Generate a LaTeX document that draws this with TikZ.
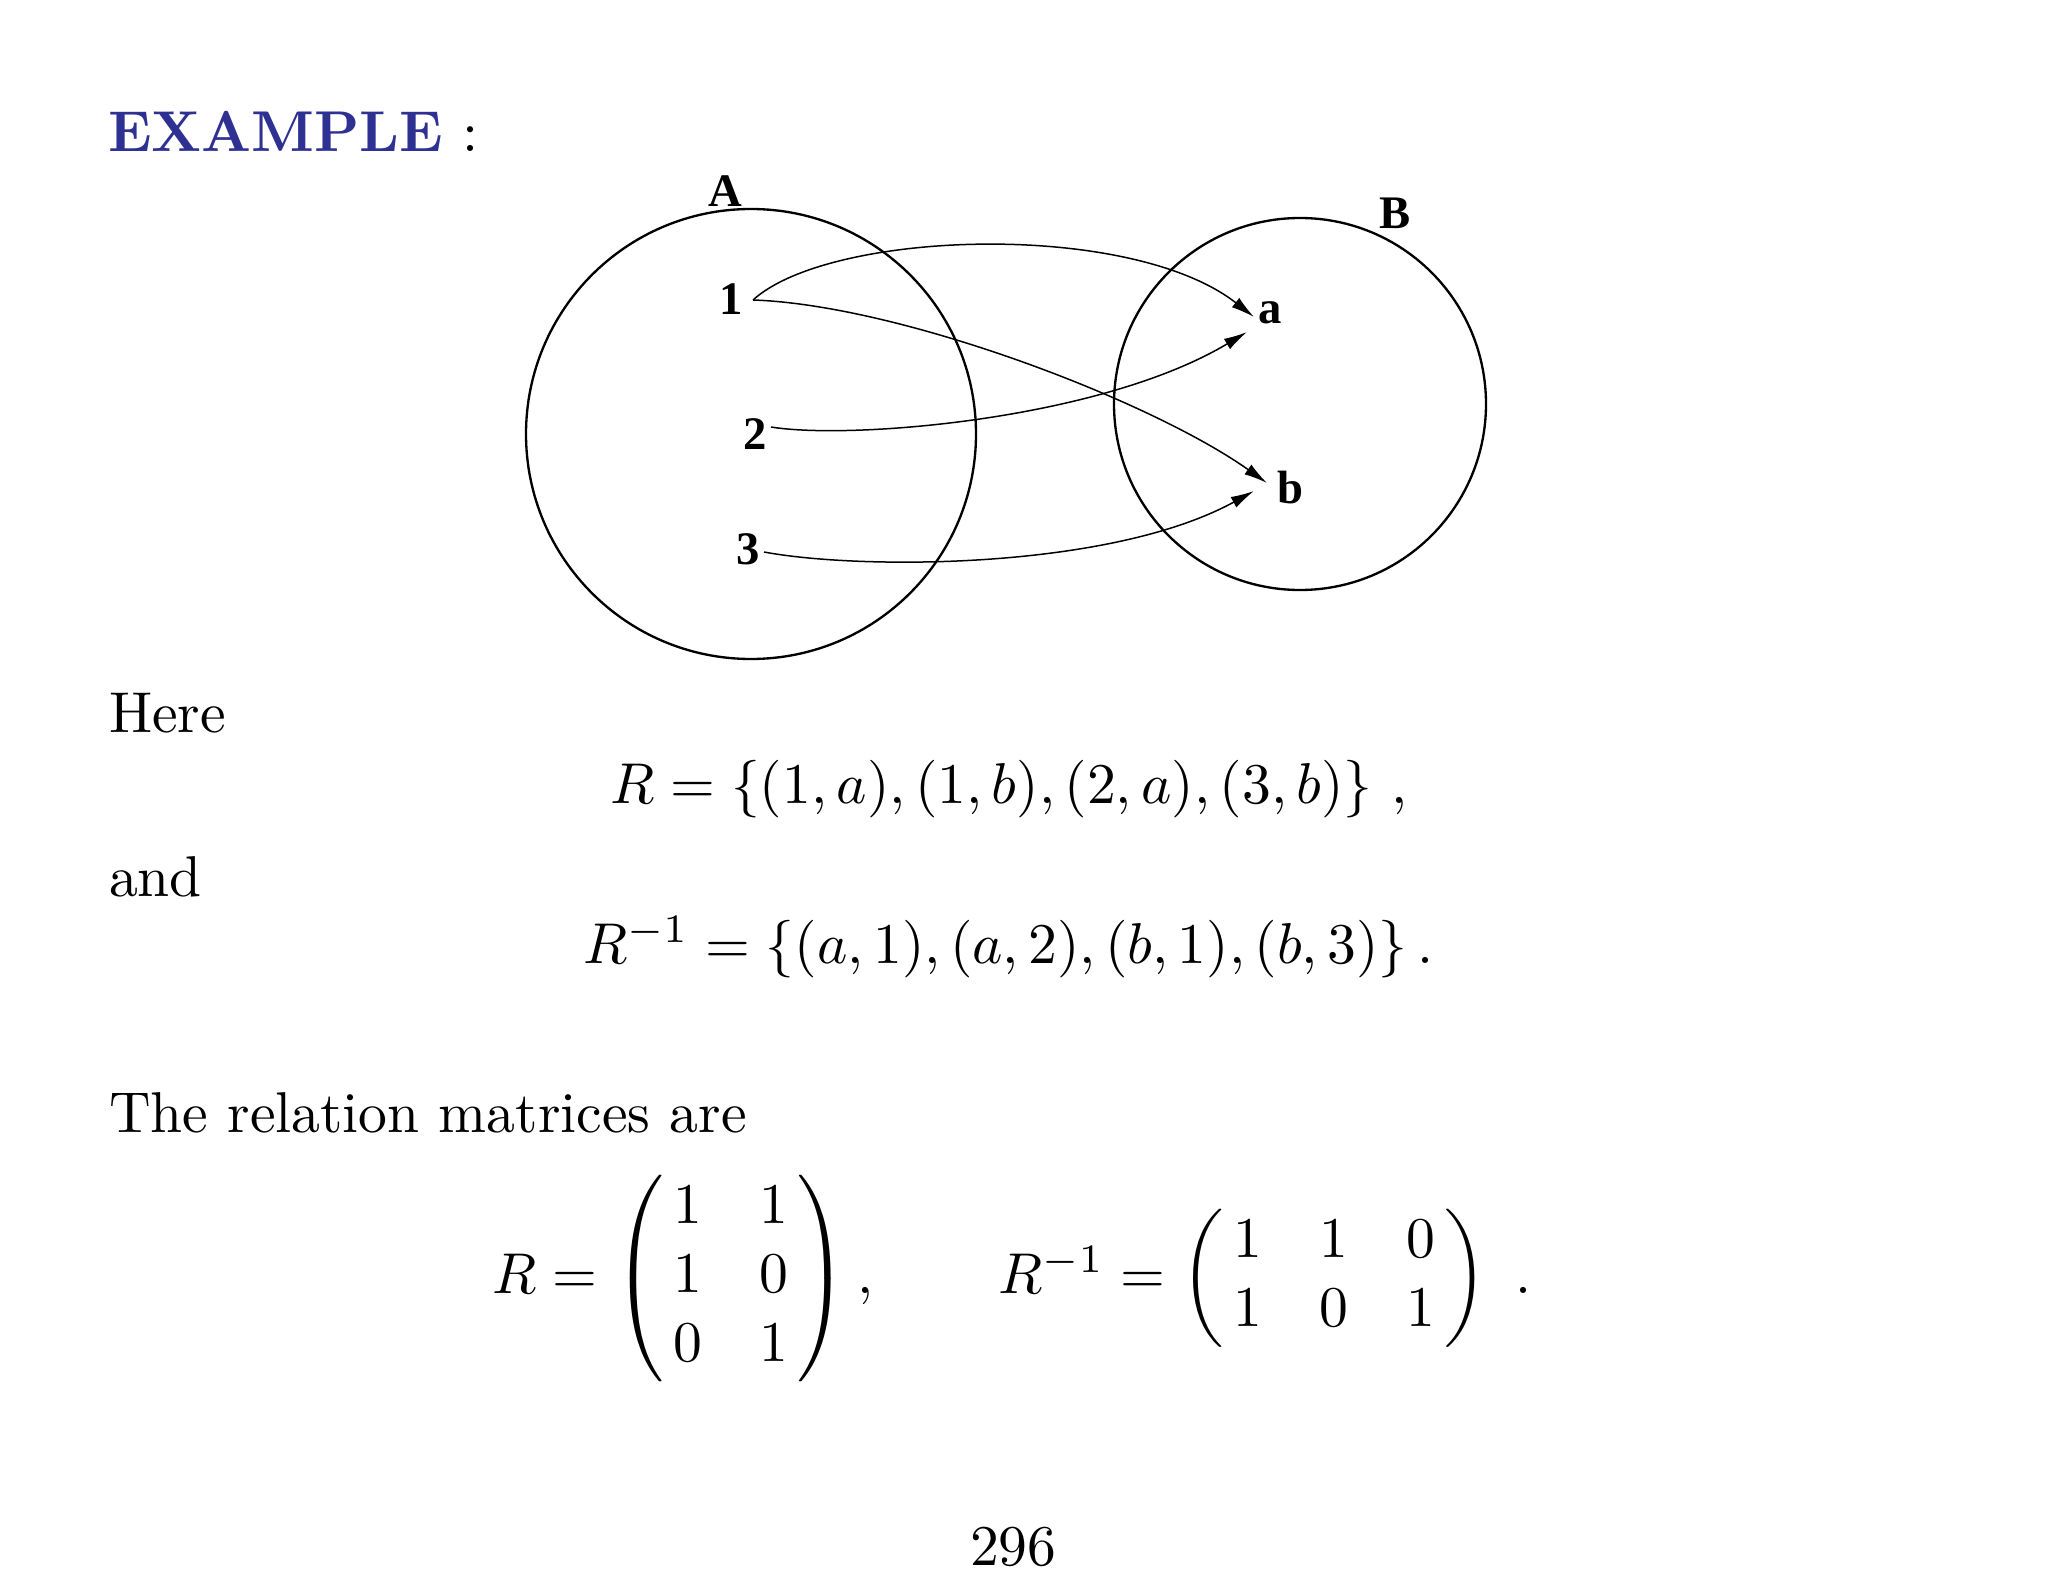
\documentclass[tikz,border=0pt]{standalone}
\usepackage{fontspec}
\usepackage{amsmath}
\usetikzlibrary{arrows.meta}
\newfontfamily\labfont{Liberation Serif}
\definecolor{exblue}{RGB}{46,49,146}
\newcommand{\pmat}[1]{\left(\,\begin{matrix}#1\end{matrix}\,\right)}
\begin{document}
\begin{tikzpicture}[x=0.3pt,y=-0.3pt,
  txt/.style={scale=1.728,inner sep=0,anchor=base west},
  lab/.style={font=\labfont\bfseries\fontsize{14}{16}\selectfont,inner sep=0},
  setc/.style={line width=0.7pt},
  rel/.style={line width=0.45pt,-{Latex[length=7pt,width=3.6pt]}}]
\useasboundingbox (0,0) rectangle (2048,1582);
% heading
\node[txt] (head) at (107,152) {\textcolor{exblue}{\bfseries EXAMPLE} :};
% sets
\draw[setc] (751,434) circle[radius=225];
\draw[setc] (1300,404) circle[radius=186];
\node[lab] (lA) at (725,191) {A};
\node[lab] (lB) at (1395,213) {B};
\node[lab] (n1) at (731,299) {1};
\node[lab] (n2) at (755,434) {2};
\node[lab] (n3) at (748,549) {3};
\node[lab] (na) at (1270,313) {a};
\node[lab] (nb) at (1290,488) {b};
\coordinate (s1) at (753,300);
\coordinate (s2) at (771,427);
\coordinate (s3) at (764,552);
\coordinate (ta1) at (1254,317);
\coordinate (ta2) at (1247,332);
\coordinate (tb1) at (1267,483);
\coordinate (tb3) at (1254,491);
\draw[rel] (s1) .. controls (830,230) and (1130,220) .. (ta1);
\draw[rel] (s1) .. controls (900,305) and (1150,400) .. (tb1);
\draw[rel] (s2) .. controls (850,440) and (1100,420) .. (ta2);
\draw[rel] (s3) .. controls (860,570) and (1110,570) .. (tb3);
% text
\node[txt] (here) at (108,732) {Here};
\node[txt] (rset) at (609,803) {$R=\{(1,a),(1,b),(2,a),(3,b)\}\ ,$};
\node[txt] (and) at (108,896) {and};
\node[txt] (rinv) at (582,963) {$R^{-1}=\{(a,1),(a,2),(b,1),(b,3)\}\,.$};
\node[txt] (rel) at (108,1132) {The relation matrices are};
\node[txt] (mats) at (491,1293) {$R=\pmat{1&1\\1&0\\0&1},\qquad R^{-1}=\pmat{1&1&0\\1&0&1}\ .$};
\node[txt] (page) at (969,1565) {296};
\end{tikzpicture}
\end{document}
